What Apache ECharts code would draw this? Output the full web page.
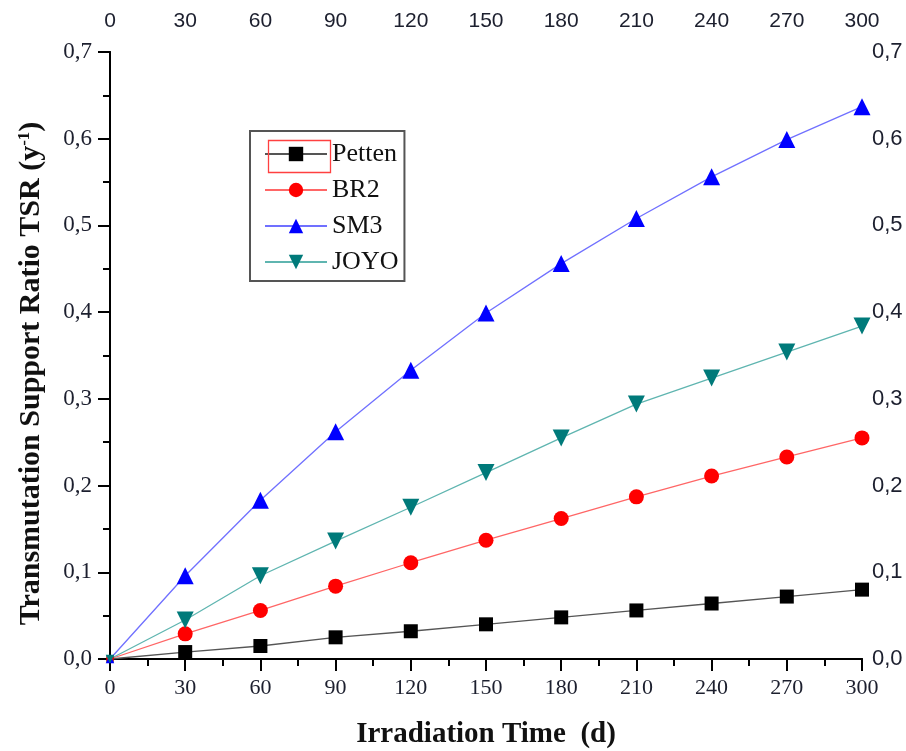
<!DOCTYPE html>
<html>
<head>
<meta charset="utf-8">
<script src="https://cdn.jsdelivr.net/npm/echarts@6/dist/echarts.min.js"></script>
<style>
html,body{margin:0;padding:0;background:#fff;}
#chart{width:906px;height:751px;}
</style>
</head>
<body>
<div id="chart"></div>
<script>
// Irradiation time (days)
const days = [0, 30, 60, 90, 120, 150, 180, 210, 240, 270, 300];
// Transmutation support ratio TSR (1/y) per reactor
const petten = [0, 0.008, 0.015, 0.025, 0.032, 0.040, 0.048, 0.056, 0.064, 0.072, 0.080];
const br2    = [0, 0.029, 0.056, 0.084, 0.111, 0.137, 0.162, 0.187, 0.211, 0.233, 0.255];
const sm3    = [0, 0.096, 0.183, 0.262, 0.333, 0.399, 0.456, 0.508, 0.556, 0.599, 0.637];
const joyo   = [0, 0.045, 0.096, 0.136, 0.175, 0.215, 0.255, 0.294, 0.324, 0.354, 0.384];

const SERIF = '"Liberation Serif", "Times New Roman", serif';
const SANS = '"Liberation Sans", Arial, sans-serif';
const fmtY = v => v.toFixed(1).replace('.', ',');
const LABEL_COLOR = '#1c1f2e';

const chart = echarts.init(document.getElementById('chart'));

function pairs(vals) { return days.map((d, i) => [d, vals[i]]); }

function makeSeries(name, vals, symbol, size, symColor, lineColor) {
  return {
    name: name,
    type: 'line',
    xAxisIndex: 0,
    yAxisIndex: 0,
    data: pairs(vals),
    symbol: symbol,
    symbolSize: (val, p) => p.dataIndex === 0 ? size * 0.5 : size,
    itemStyle: { color: symColor },
    lineStyle: { color: lineColor, width: 1.3 },
    clip: false,
    animation: false
  };
}

const axisLine = { show: true, lineStyle: { color: '#000', width: 2 } };
const ticks = inside => ({ show: true, inside: inside, length: 12, lineStyle: { color: '#000', width: 2 } });
const minor = { show: true, splitNumber: 2, length: 7, lineStyle: { color: '#000', width: 2 } };

chart.setOption({
  backgroundColor: '#fff',
  animation: false,
  grid: { left: 110, right: 44, top: 52, bottom: 92, outerBoundsMode: 'none', containLabel: false },
  legend: {
    left: 250, top: 131, orient: 'vertical',
    itemWidth: 62, itemHeight: 18, itemGap: 10,
    padding: [10, 6, 6, 14],
    borderColor: '#555', borderWidth: 2, backgroundColor: '#fff',
    textStyle: { fontFamily: SERIF, fontSize: 26, lineHeight: 25, color: '#111' },
    data: ['Petten', 'BR2', 'SM3', 'JOYO']
  },
  xAxis: [{
    type: 'value', min: 0, max: 300, interval: 30, position: 'bottom',
    name: 'Irradiation Time  (d)', nameLocation: 'middle', nameGap: 61,
    nameTextStyle: { fontFamily: SERIF, fontSize: 29, fontWeight: 'bold', color: '#111' },
    axisLine: axisLine, axisTick: ticks(false), minorTick: minor,
    axisLabel: { fontFamily: SERIF, fontSize: 22, color: LABEL_COLOR, margin: 18 },
    splitLine: { show: false }
  }, {
    type: 'value', min: 0, max: 300, interval: 30, position: 'top',
    axisLine: axisLine, axisTick: ticks(true), minorTick: minor,
    axisLabel: { fontFamily: SANS, fontSize: 21, color: LABEL_COLOR, margin: 20 },
    splitLine: { show: false }
  }],
  yAxis: [{
    type: 'value', min: 0, max: 0.7, interval: 0.1, position: 'left',
    name: 'Transmutation Support Ratio TSR (y{sup|-1})', nameLocation: 'middle', nameGap: 64,
    nameTextStyle: { fontFamily: SERIF, fontSize: 30, fontWeight: 'bold', color: '#111',
      padding: [0, 36, 0, 0],
      rich: { sup: { fontFamily: SERIF, fontSize: 17, fontWeight: 'bold', color: '#111', verticalAlign: 'top', padding: [0, 0, 12, 0] } } },
    axisLine: axisLine, axisTick: ticks(false), minorTick: minor,
    axisLabel: { fontFamily: SERIF, fontSize: 23, color: LABEL_COLOR, margin: 18, formatter: fmtY },
    splitLine: { show: false }
  }, {
    type: 'value', min: 0, max: 0.7, interval: 0.1, position: 'right',
    axisLine: axisLine, axisTick: ticks(true), minorTick: minor,
    axisLabel: { fontFamily: SANS, fontSize: 22, color: LABEL_COLOR, margin: 10, formatter: fmtY },
    splitLine: { show: false }
  }],
  series: [
    makeSeries('Petten', petten, 'rect', 14, '#000000', '#555555'),
    makeSeries('BR2', br2, 'circle', 15, '#ff0000', '#ff6666'),
    makeSeries('SM3', sm3, 'triangle', 17, '#0000ff', '#7070ff'),
    makeSeries('JOYO', joyo, 'path://M0,0 L10,0 L5,9 Z', 17, '#007a7a', '#5fb5b0')
  ],
  graphic: [{
    type: 'rect', left: 266, top: 138, shape: { width: 62, height: 32 },
    style: { fill: 'none', stroke: '#ff4040', lineWidth: 1.3 }, z: 100
  }]
});
</script>
</body>
</html>
